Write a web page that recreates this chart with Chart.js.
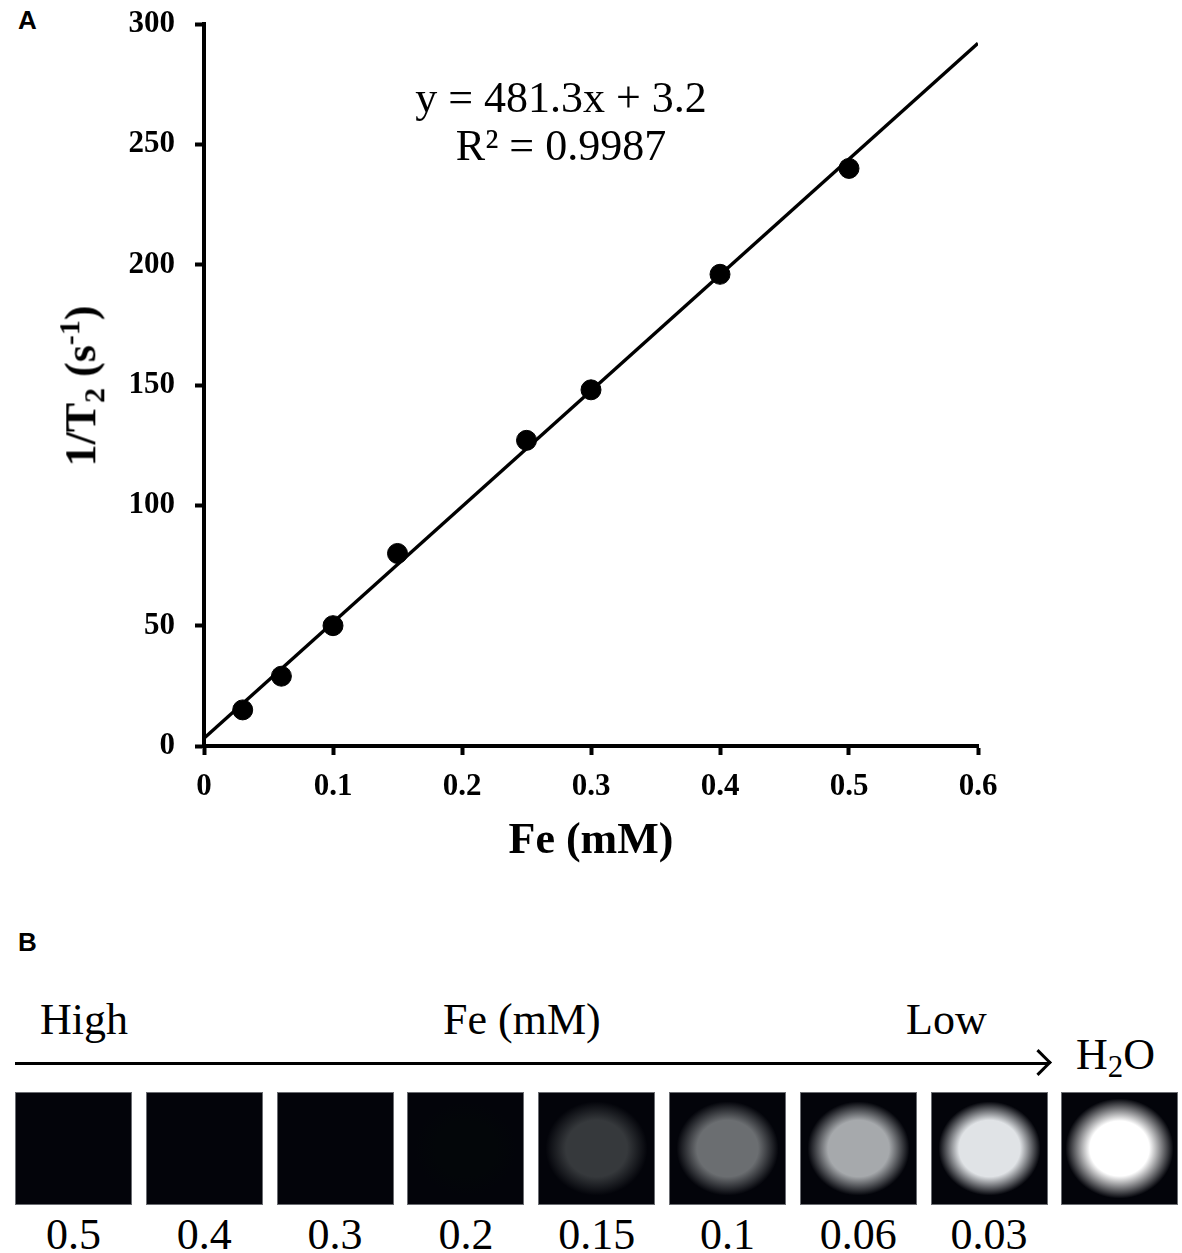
<!DOCTYPE html>
<html>
<head>
<meta charset="utf-8">
<script src="https://cdn.jsdelivr.net/npm/chart.js@4/dist/chart.umd.min.js"></script>
<style>
  html, body { margin: 0; padding: 0; background: #fff; }
  body { width: 1182px; height: 1253px; position: relative; overflow: hidden;
         font-family: 'Liberation Serif', 'Times New Roman', serif; color: #000; }
  .panel { position: absolute; font-family: 'Liberation Sans', Arial, sans-serif; font-weight: bold; font-size: 26px; line-height: 26px; }
  #chartA { position: absolute; left: 0; top: 0; }
  .ytitle { position: absolute; left: 82px; top: 386px; transform: translate(-50%, -50%) rotate(-90deg);
            font-weight: bold; font-size: 44px; white-space: nowrap; line-height: 1; }
  .ytitle sub, .ytitle sup { font-size: 0.68em; }
  .eq { position: absolute; left: 561px; top: 74px; transform: translateX(-50%); text-align: center;
        font-size: 44px; line-height: 48px; white-space: nowrap; }
  .t { position: absolute; font-size: 44px; line-height: 44px; white-space: nowrap; }
  .t sub { font-size: 0.7em; vertical-align: -0.25em; line-height: 0; }
  .arrow { position: absolute; left: 15px; top: 1062px; width: 1034px; height: 3px; background: #000; }
  .arrow::after { content: ''; position: absolute; right: 1px; top: -9px; width: 16px; height: 16px;
                  border-top: 3px solid #000; border-right: 3px solid #000; transform: rotate(45deg); transform-origin: center; }
  .phantom { position: absolute; top: 1092px; width: 117px; height: 113px; background: #03040a;
             box-shadow: inset 0 0 0 1px #6b6d72; }
  .num { position: absolute; top: 1213px; width: 117px; text-align: center; font-size: 44px; line-height: 44px; }
</style>
</head>
<body>
<div class="panel" style="left:18px; top:7px;">A</div>
<canvas id="chartA" width="1010" height="880"></canvas>
<div class="ytitle">1/T<sub>2</sub> (s<sup>-1</sup>)</div>
<div class="eq">y = 481.3x + 3.2<br>R² = 0.9987</div>

<div class="panel" style="left:18px; top:929px;">B</div>
<div id="panelB"></div>

<script>
// Panel A: relaxation rate vs iron concentration
const feConc = [0.03, 0.06, 0.1, 0.15, 0.25, 0.3, 0.4, 0.5];
const relaxRate = [15, 29, 50, 80, 127, 148, 196, 240];
// linear fit y = 481.3x + 3.2, end points
const fitX = [0, 0.6];
const fitY = [3.2, 292.0];

const xMin = 0, xMax = 0.6, xStep = 0.1;
const yMin = 0, yMax = 300, yStep = 50;

// Panel B: phantom images, high to low Fe
const phantomLabels = ['0.5', '0.4', '0.3', '0.2', '0.15', '0.1', '0.06', '0.03', ''];
const phantomSignal = [0, 0, 0, 0.01, 0.21, 0.42, 0.65, 0.88, 1.0];

const serif = "'Liberation Serif','Times New Roman',serif";
const tickFont = { family: serif, size: 31, weight: 'bold' };

function axisStyle() {
    return {
        grid: { display: true, drawOnChartArea: false, drawTicks: true, tickLength: 9,
                tickWidth: 4, tickColor: '#000', color: '#000' },
        border: { display: true, width: 4, color: '#000' }
    };
}

new Chart(document.getElementById('chartA').getContext('2d'), {
    type: 'scatter',
    data: {
        datasets: [
            { label: 'Fit', data: fitX.map((x, i) => ({ x: x, y: fitY[i] })), showLine: true,
              borderColor: '#000', borderWidth: 3.5, pointRadius: 0, order: 2 },
            { label: 'Measured', data: feConc.map((x, i) => ({ x: x, y: relaxRate[i] })),
              backgroundColor: '#000', borderColor: '#000', pointRadius: 10, order: 1 }
        ]
    },
    options: {
        responsive: false, animation: false,
        layout: { padding: { top: 24, right: 32, left: 0, bottom: 0 } },
        plugins: { legend: { display: false }, tooltip: { enabled: false } },
        scales: {
            x: {
                type: 'linear', min: xMin, max: xMax,
                ...axisStyle(),
                ticks: { stepSize: xStep, font: tickFont, color: '#000', padding: 13,
                         maxRotation: 0, callback: v => String(Math.round(v * 10) / 10) },
                title: { display: true, text: 'Fe (mM)', color: '#000',
                         font: { family: serif, size: 44, weight: 'bold' }, padding: { top: 0, bottom: 12 } },
                afterFit: s => { s.height = 134; s.paddingLeft = 0; s.paddingRight = 0; }
            },
            y: {
                type: 'linear', min: yMin, max: yMax,
                ...axisStyle(),
                ticks: { stepSize: yStep, font: tickFont, color: '#000', padding: 20 },
                afterFit: s => { s.width = 204; s.paddingTop = 0; s.paddingBottom = 0; }
            }
        }
    }
});

// Panel B layout
const panelB = document.getElementById('panelB');
function addText(html, left, top) {
    const d = document.createElement('div');
    d.className = 't';
    d.style.left = left + 'px';
    d.style.top = top + 'px';
    d.innerHTML = html;
    panelB.appendChild(d);
}
addText('High', 40, 998);
addText('Fe (mM)', 443, 998);
addText('Low', 906, 998);
addText('H<sub>2</sub>O', 1076, 1033);
const arrow = document.createElement('div');
arrow.className = 'arrow';
panelB.appendChild(arrow);

phantomSignal.forEach((s, i) => {
    const left = 15 + i * 130.8;
    const g = Math.round(s * 255);
    const c = `rgb(${g},${g + 3},${g + 6})`;
    const p = document.createElement('div');
    p.className = 'phantom';
    p.style.left = left + 'px';
    const water = i === phantomSignal.length - 1;
    const rx = water ? 54 : 51, ry = water ? 50 : 47;
    const plateau = water ? 55 : 60;
    if (s > 0) {
        p.style.background = `radial-gradient(ellipse ${rx}px ${ry}px at 50% 50%, ${c} 0%, ${c} ${plateau}%, #03040a 100%), #03040a`;
    }
    panelB.appendChild(p);
    if (phantomLabels[i]) {
        const n = document.createElement('div');
        n.className = 'num';
        n.style.left = left + 'px';
        n.textContent = phantomLabels[i];
        panelB.appendChild(n);
    }
});
</script>
</body>
</html>
